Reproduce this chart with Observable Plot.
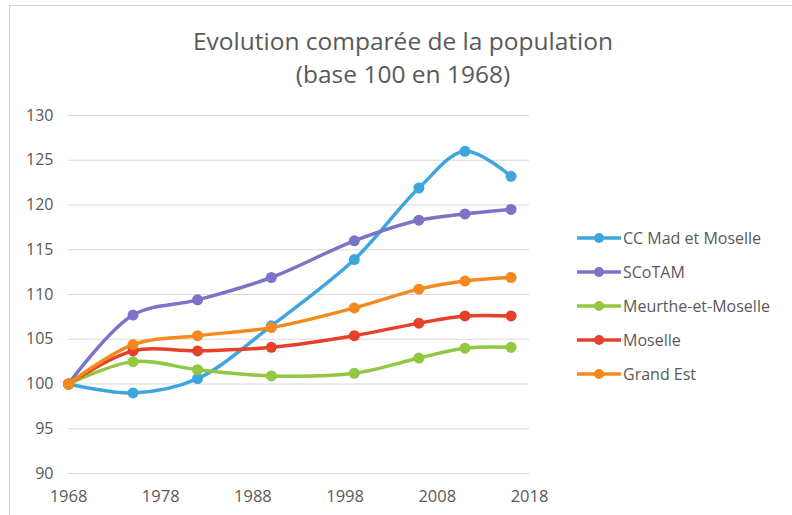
<!DOCTYPE html>
<html><head><meta charset="utf-8">
<script src="https://cdn.jsdelivr.net/npm/d3@7"></script>
<script src="https://cdn.jsdelivr.net/npm/@observablehq/plot@0.6"></script>
<style>
body{margin:0;background:#fff;font-family:"Open Sans",sans-serif;}
#wrap{position:relative;width:792px;height:515px;overflow:hidden;background:#fff;}
#frame{position:absolute;left:9px;top:5px;width:820px;height:540px;border:1.5px solid #d4d4d4;box-sizing:border-box;}
#title{position:absolute;left:12px;top:24px;width:782px;text-align:center;font-size:24.5px;color:#595959;line-height:33px;}
#chart{position:absolute;left:0;top:95px;}
#legend{position:absolute;left:576px;top:221px;font-size:16px;color:#595959;}
.row{height:34px;display:flex;align-items:center;}
.row svg{margin-right:1px;}
</style>
</head><body>
<div id="wrap">
<div id="frame"></div>
<div id="title">Evolution comparée de la population<br>(base 100 en 1968)</div>
<div id="chart"></div>
<div id="legend"></div>
</div>
<script>
const years = [1968, 1975, 1982, 1990, 1999, 2006, 2011, 2016];
const seriesNames = ["CC Mad et Moselle", "SCoTAM", "Meurthe-et-Moselle", "Moselle", "Grand Est"];
const colors = ["#3FA6DD", "#7B73C5", "#92C741", "#E6402A", "#F48A1E"];
const ccMad    = [100, 99.0, 100.6, 106.5, 113.9, 121.9, 126.0, 123.2];
const scotam   = [100, 107.7, 109.4, 111.9, 116.0, 118.3, 119.0, 119.5];
const meurthe  = [100, 102.5, 101.6, 100.9, 101.2, 102.9, 104.0, 104.1];
const moselle  = [100, 103.7, 103.7, 104.1, 105.4, 106.8, 107.6, 107.6];
const grandEst = [100, 104.4, 105.4, 106.3, 108.5, 110.6, 111.5, 111.9];
const xTicks = [1968, 1978, 1988, 1998, 2008, 2018];
const yTicks = [90, 95, 100, 105, 110, 115, 120, 125, 130];

const allValues = [ccMad, scotam, meurthe, moselle, grandEst];
const data = [];
seriesNames.forEach((name, i) => {
  years.forEach((y, j) => data.push({series: name, year: y, value: allValues[i][j]}));
});

const marks = [
  Plot.gridY(yTicks, {stroke: "#d9d9d9", strokeOpacity: 1, strokeWidth: 1.2}),
  Plot.axisY(yTicks, {tickSize: 0, tickPadding: 15, fontSize: 16, fill: "#595959", label: null}),
  Plot.axisX(xTicks, {tickSize: 0, tickPadding: 17, fontSize: 16.5, fill: "#595959", label: null, tickFormat: d => String(d)})
];
seriesNames.forEach((name, i) => {
  const d = data.filter(r => r.series === name);
  marks.push(Plot.line(d, {x: "year", y: "value", stroke: colors[i], strokeWidth: 3.5, curve: "catmull-rom"}));
  marks.push(Plot.dot(d, {x: "year", y: "value", fill: colors[i], r: 5.5}));
});

const chart = Plot.plot({
  width: 792,
  height: 420,
  marginLeft: 68,
  marginRight: 263,
  marginTop: 20,
  marginBottom: 42,
  x: {domain: [1968, 2018]},
  y: {domain: [90, 130]},
  style: {fontFamily: "'Open Sans', sans-serif", background: "transparent", overflow: "visible"},
  marks
});
document.getElementById("chart").appendChild(chart);

const legend = document.getElementById("legend");
seriesNames.forEach((name, i) => {
  const row = document.createElement("div");
  row.className = "row";
  row.innerHTML = `<svg width="46" height="14"><line x1="1" y1="7" x2="45" y2="7" stroke="${colors[i]}" stroke-width="3.5"/><circle cx="23" cy="7" r="5" fill="${colors[i]}"/></svg><span>${name}</span>`;
  legend.appendChild(row);
});
</script>
</body></html>
